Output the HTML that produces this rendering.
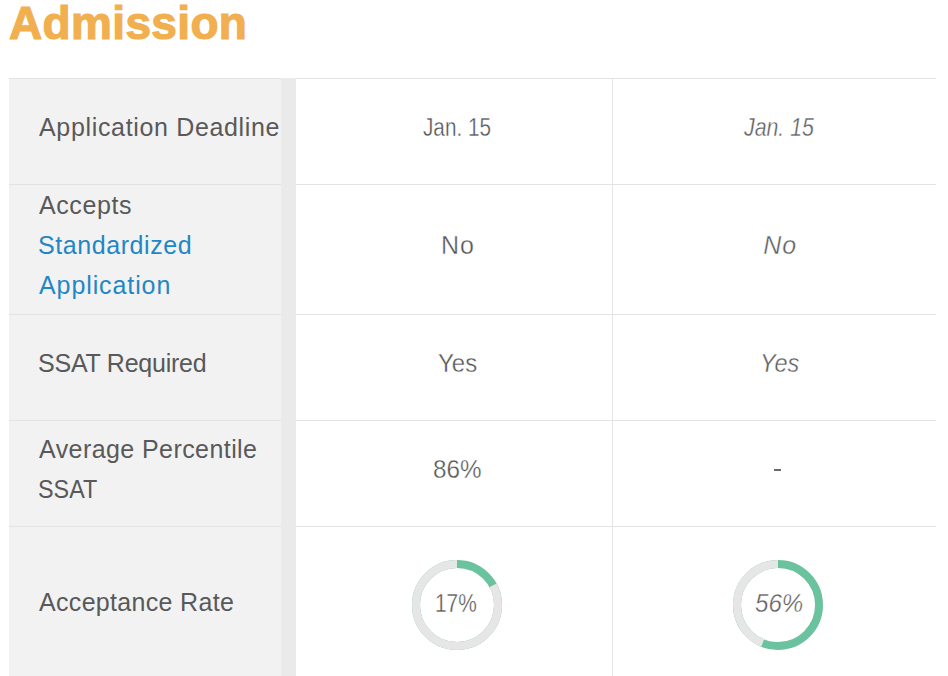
<!DOCTYPE html>
<html><head><meta charset="utf-8"><title>Admission</title>
<style>
html,body{margin:0;padding:0;background:#ffffff;}
body{width:948px;height:676px;overflow:hidden;position:relative;font-family:"Liberation Sans",sans-serif;}
.tx{position:absolute;white-space:nowrap;line-height:30px;height:30px;}
.thin{-webkit-text-stroke:0.35px #fff;}
.bg1{position:absolute;left:9px;top:78px;width:272px;height:598px;background:#f2f2f2;}
.hl{position:absolute;left:9px;width:927px;height:1px;background:#e3e3e3;}
.strip{position:absolute;left:281px;top:78px;width:15px;height:598px;background:#eaeaea;}
.vl{position:absolute;left:612px;top:79px;width:1px;height:597px;background:#e5e5e5;}
.dn{position:absolute;}
.dash{position:absolute;left:774px;top:469px;width:7px;height:2px;background:#6a6a6a;}
</style></head><body>
<div class="bg1"></div>
<div class="hl" style="top:78px"></div>
<div class="hl" style="top:184px"></div>
<div class="hl" style="top:314px"></div>
<div class="hl" style="top:420px"></div>
<div class="hl" style="top:526px"></div>
<div class="strip"></div>
<div class="vl"></div>
<svg class="dn" style="left:407px;top:555px" width="100" height="100" viewBox="0 0 100 100"><circle cx="50" cy="50" r="41" fill="none" stroke="#6bc29f" stroke-width="8"/><circle cx="50" cy="50" r="41" fill="none" stroke="#e6e6e6" stroke-width="8" stroke-dasharray="213.817 257.611" stroke-dashoffset="-43.794" transform="rotate(-90 50 50)"/></svg>
<svg class="dn" style="left:728px;top:555px" width="100" height="100" viewBox="0 0 100 100"><circle cx="50" cy="50" r="41" fill="none" stroke="#6bc29f" stroke-width="8"/><circle cx="50" cy="50" r="41" fill="none" stroke="#e6e6e6" stroke-width="8" stroke-dasharray="113.349 257.611" stroke-dashoffset="-144.262" transform="rotate(-90 50 50)"/></svg>
<div class="dash"></div>
<div id="t1" class="tx" style="left:9.00px;top:7.50px;font-size:46px;letter-spacing:0.350px;color:#f1af4f;font-weight:bold;-webkit-text-stroke:1.2px #f1af4f;">Admission</div>
<div id="a1" class="tx" style="left:39.00px;top:112.00px;font-size:25px;letter-spacing:0.663px;color:#595959;">Application Deadline</div>
<div id="a2" class="tx" style="left:39.00px;top:189.50px;font-size:25px;letter-spacing:0.600px;color:#595959;">Accepts</div>
<div id="a3" class="tx" style="left:38.00px;top:229.60px;font-size:25px;letter-spacing:0.573px;color:#1f87c5;">Standardized</div>
<div id="a4" class="tx" style="left:39.00px;top:269.60px;font-size:25px;letter-spacing:0.900px;color:#1f87c5;">Application</div>
<div id="a5" class="tx" style="left:38.00px;top:348.30px;font-size:25px;letter-spacing:-0.225px;color:#595959;">SSAT Required</div>
<div id="a6" class="tx" style="left:39.00px;top:434.00px;font-size:25px;letter-spacing:0.424px;color:#595959;">Average Percentile</div>
<div id="a7" class="tx" style="left:38.00px;top:473.60px;font-size:25px;letter-spacing:0.000px;color:#595959;transform:scaleX(0.9333);transform-origin:0 0;">SSAT</div>
<div id="a8" class="tx" style="left:39.00px;top:586.60px;font-size:25px;letter-spacing:0.321px;color:#595959;">Acceptance Rate</div>
<div id="b1" class="tx thin" style="left:423.00px;top:112.00px;font-size:25px;letter-spacing:0.000px;color:#555555;transform:scaleX(0.8285);transform-origin:0 0;">Jan. 15</div>
<div id="c1" class="tx thin" style="left:743.70px;top:112.00px;font-size:25px;letter-spacing:0.000px;color:#5e5e5e;transform:scaleX(0.8526);transform-origin:0 0;font-style:italic;">Jan. 15</div>
<div id="b2" class="tx thin" style="left:441.10px;top:229.80px;font-size:25px;letter-spacing:0.900px;color:#555555;">No</div>
<div id="c2" class="tx thin" style="left:763.20px;top:229.80px;font-size:25px;letter-spacing:0.900px;color:#5e5e5e;font-style:italic;">No</div>
<div id="b3" class="tx thin" style="left:437.70px;top:347.90px;font-size:25px;letter-spacing:0.000px;color:#555555;transform:scaleX(0.9597);transform-origin:0 0;">Yes</div>
<div id="c3" class="tx thin" style="left:760.40px;top:347.90px;font-size:25px;letter-spacing:0.000px;color:#5e5e5e;transform:scaleX(0.9406);transform-origin:0 0;font-style:italic;">Yes</div>
<div id="b4" class="tx thin" style="left:432.70px;top:453.50px;font-size:25px;letter-spacing:0.000px;color:#555555;transform:scaleX(0.9694);transform-origin:0 0;">86%</div>
<div id="b5" class="tx thin" style="left:435.10px;top:587.80px;font-size:25px;letter-spacing:0.000px;color:#555555;transform:scaleX(0.8347);transform-origin:0 0;">17%</div>
<div id="c5" class="tx thin" style="left:754.50px;top:587.80px;font-size:25px;letter-spacing:0.000px;color:#5e5e5e;transform:scaleX(0.9637);transform-origin:0 0;font-style:italic;">56%</div>
</body></html>
